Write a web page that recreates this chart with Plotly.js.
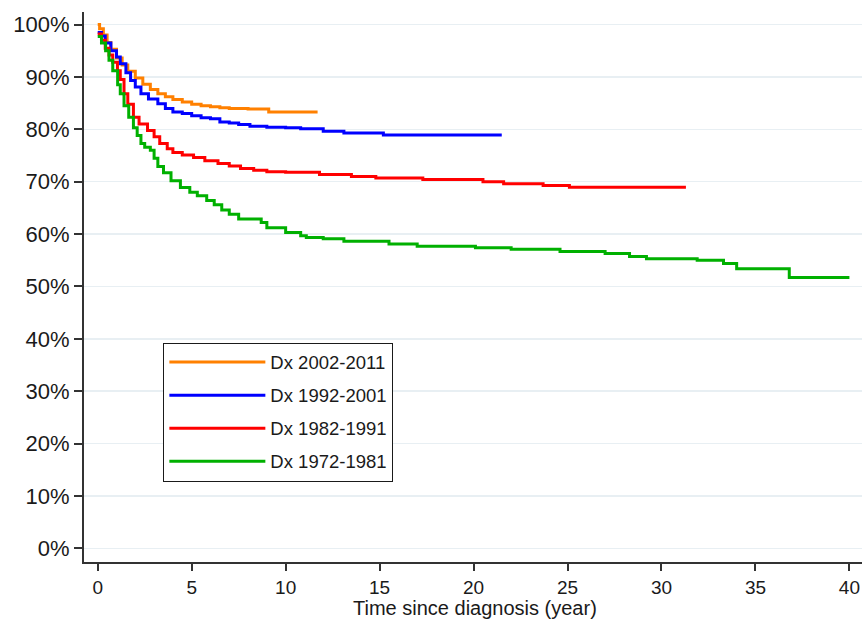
<!DOCTYPE html>
<html>
<head>
<meta charset="utf-8">
<script src="https://cdn.plot.ly/plotly-3.0.1.min.js"></script>
<style>html,body{margin:0;padding:0;background:#fff;}#chart{width:862px;height:620px;}</style>
</head>
<body>
<div id="chart"></div>
<script>
// Survival (%) by time since diagnosis (years)
const seriesNames = ["Dx 2002-2011", "Dx 1992-2001", "Dx 1982-1991", "Dx 1972-1981"];
const xTitle = "Time since diagnosis (year)";

const t2002 = [0, 0.1, 0.3, 0.5, 0.7, 1.0, 1.3, 1.6, 2.0, 2.4, 2.8, 3.2, 3.6, 4.0, 4.5, 5.0, 5.5, 6.0, 6.5, 7.0, 8.0, 9.1, 11.7];
const s2002 = [100, 99.2, 98.0, 96.6, 95.3, 93.6, 92.3, 91.1, 89.8, 88.6, 87.6, 86.8, 86.2, 85.7, 85.2, 84.8, 84.5, 84.3, 84.1, 84.0, 83.9, 83.3, 83.3];

const t1992 = [0, 0.2, 0.4, 0.7, 1.0, 1.2, 1.5, 1.75, 2.0, 2.3, 2.7, 3.2, 3.6, 4.0, 4.5, 5.0, 5.5, 6.0, 6.5, 7.0, 7.5, 8.1, 9.0, 10.0, 10.8, 12.0, 13.1, 15.2, 21.5];
const s1992 = [98.5, 97.8, 96.5, 95.0, 93.8, 92.5, 90.8, 89.3, 88.1, 86.8, 85.8, 84.9, 84.0, 83.3, 83.0, 82.6, 82.2, 82.0, 81.4, 81.2, 80.9, 80.6, 80.4, 80.3, 80.1, 79.65, 79.3, 78.9, 78.9];

const t1982 = [0, 0.2, 0.4, 0.6, 0.8, 1.05, 1.2, 1.4, 1.6, 1.9, 2.2, 2.65, 3.0, 3.3, 3.7, 4.0, 4.5, 5.1, 5.7, 6.4, 7.0, 7.6, 8.3, 9.0, 10.0, 11.8, 13.5, 14.8, 17.3, 20.5, 21.6, 23.7, 25.1, 31.3];
const s1982 = [98.2, 97.0, 95.5, 94.2, 92.8, 91.2, 89.5, 86.8, 84.8, 82.3, 81.0, 79.8, 78.6, 77.3, 76.3, 75.6, 75.1, 74.6, 74.0, 73.5, 73.0, 72.5, 72.2, 71.9, 71.8, 71.4, 71.0, 70.7, 70.4, 70.0, 69.6, 69.3, 68.95, 68.95];

const t1972 = [0, 0.2, 0.42, 0.6, 0.8, 1.06, 1.2, 1.4, 1.65, 1.9, 2.1, 2.3, 2.5, 2.8, 3.0, 3.2, 3.5, 3.9, 4.4, 4.9, 5.3, 5.8, 6.2, 6.6, 7.0, 7.5, 8.7, 9.0, 10.0, 10.8, 11.1, 12.0, 13.1, 15.5, 17.0, 20.1, 22.0, 24.6, 27.0, 28.3, 29.2, 31.9, 33.3, 34.0, 36.8, 40.0];
const s1972 = [97.7, 96.5, 95.0, 93.2, 91.2, 88.5, 86.8, 84.5, 82.3, 80.3, 78.8, 77.3, 76.6, 76.0, 74.5, 72.9, 71.7, 70.2, 68.9, 68.0, 67.3, 66.4, 65.6, 64.6, 63.8, 62.9, 62.2, 61.2, 60.3, 59.7, 59.35, 59.1, 58.65, 58.1, 57.7, 57.4, 57.1, 56.7, 56.3, 55.7, 55.3, 55.0, 54.4, 53.4, 51.7, 51.7];

const xTickVals = [0, 5, 10, 15, 20, 25, 30, 35, 40];
const yTickVals = [0, 10, 20, 30, 40, 50, 60, 70, 80, 90, 100];
const yTickText = yTickVals.map(v => v + "%");

const colors = ["#ff8000", "#0000ff", "#ff0000", "#00b000"];
const xs = [t2002, t1992, t1982, t1972];
const ys = [s2002, s1992, s1982, s1972];

const FONT = "Liberation Sans, Arial, Helvetica, sans-serif";

const traces = seriesNames.map((name, i) => ({
  type: "scatter",
  mode: "lines",
  name: name,
  x: xs[i],
  y: ys[i],
  line: {color: colors[i], width: 3, shape: "hv"},
  legendgroup: "g" + i,
  hoverinfo: "skip"
}));

const layout = {
  width: 862,
  height: 620,
  margin: {l: 84, r: 0, t: 12, b: 58, pad: 0},
  paper_bgcolor: "#ffffff",
  plot_bgcolor: "#ffffff",
  font: {family: FONT, color: "#1a1a1a", size: 22},
  showlegend: true,
  legend: {
    x: 0.102, y: 0.399, xanchor: "left", yanchor: "top",
    bordercolor: "#1a1a1a", borderwidth: 1, bgcolor: "#ffffff",
    font: {family: FONT, size: 18.5, color: "#1a1a1a"},
    itemwidth: 96,
    tracegroupgap: 6,
    traceorder: "grouped"
  },
  xaxis: {
    range: [-0.73, 40.67],
    tickmode: "array",
    tickvals: xTickVals,
    ticks: "outside", ticklen: 7, tickwidth: 2, tickcolor: "#333333",
    showline: true, linecolor: "#333333", linewidth: 2,
    showgrid: false, zeroline: false,
    tickfont: {family: FONT, size: 19, color: "#1a1a1a"},
    fixedrange: true
  },
  yaxis: {
    range: [-2.6, 102.4],
    tickmode: "array",
    tickvals: yTickVals,
    ticktext: yTickText,
    ticks: "outside", ticklen: 8, tickwidth: 2, tickcolor: "#333333",
    showline: true, linecolor: "#333333", linewidth: 2,
    showgrid: true, gridcolor: "#e8eff3", gridwidth: 1.5,
    zeroline: false,
    tickfont: {family: FONT, size: 22, color: "#1a1a1a"},
    fixedrange: true
  },
  annotations: [{
    text: xTitle,
    xref: "paper", yref: "paper",
    x: (475 - 84) / 778, y: (561.7 - 608) / 550,
    xanchor: "center", yanchor: "middle",
    showarrow: false,
    font: {family: FONT, size: 20, color: "#1a1a1a"}
  }]
};

Plotly.newPlot("chart", traces, layout, {displayModeBar: false, staticPlot: true});
</script>
</body>
</html>
